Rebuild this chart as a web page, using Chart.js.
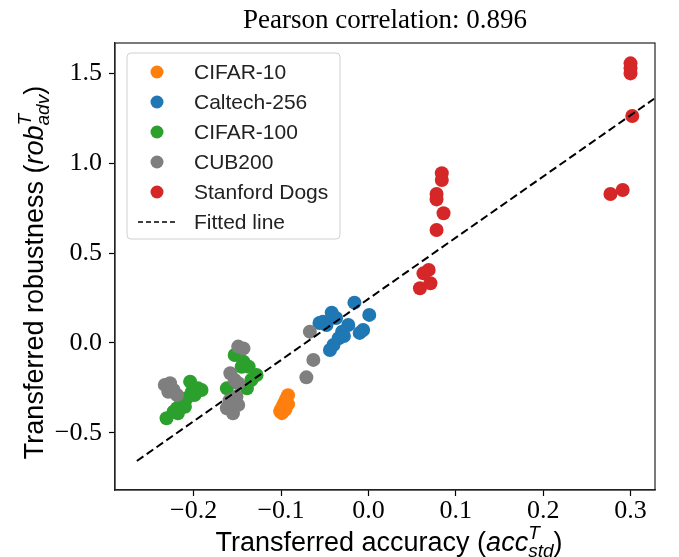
<!DOCTYPE html>
<html>
<head>
<meta charset="utf-8">
<title>Pearson correlation: 0.896</title>
<script src="https://cdn.jsdelivr.net/npm/chart.js@4.4.1/dist/chart.umd.min.js"></script>
<style>
  html, body { margin: 0; padding: 0; background: #fff; }
  #wrap { width: 679px; height: 557px; }
</style>
</head>
<body>
<div id="wrap"><canvas id="chart" width="679" height="557"></canvas></div>
<script>
  // Values (transferred accuracy vs robustness)
  var cifar10X = [-0.092, -0.094, -0.096, -0.098, -0.100, -0.101, -0.099, -0.097, -0.092, -0.095];
  var cifar10Y = [-0.29, -0.31, -0.33, -0.35, -0.37, -0.38, -0.39, -0.36, -0.34, -0.37];

  var caltechX = [-0.016, 0.001, -0.006, -0.042, -0.052, -0.048, -0.023, -0.030, -0.034, -0.040, -0.044, -0.056, -0.037, -0.010, -0.028];
  var caltechY = [0.224, 0.156, 0.072, 0.168, 0.118, 0.100, 0.100, 0.063, 0.026, -0.011, -0.039, 0.111, 0.139, 0.056, 0.039];

  var cifar100X = [-0.204, -0.195, -0.202, -0.208, -0.214, -0.219, -0.223, -0.231, -0.218, -0.210, -0.199, -0.191,
                   -0.153, -0.143, -0.137, -0.128, -0.134, -0.139, -0.162, -0.145];
  var cifar100Y = [-0.215, -0.252, -0.271, -0.307, -0.335, -0.363, -0.382, -0.418, -0.391, -0.354, -0.289, -0.261,
                   -0.067, -0.104, -0.132, -0.178, -0.206, -0.252, -0.252, -0.132];

  var cubX = [-0.233, -0.227, -0.223, -0.229, -0.219,
              -0.149, -0.143, -0.158, -0.153, -0.149, -0.162, -0.155, -0.149, -0.151, -0.159,
              -0.067, -0.063, -0.071];
  var cubY = [-0.233, -0.224, -0.261, -0.271, -0.289,
              -0.020, -0.030, -0.168, -0.206, -0.224, -0.363, -0.391, -0.344, -0.298, -0.320,
              0.063, -0.094, -0.191];

  var dogsX = [0.300, 0.300, 0.300, 0.302, 0.277, 0.291, 0.084, 0.084, 0.078, 0.078, 0.086, 0.078, 0.069, 0.063, 0.071, 0.059];
  var dogsY = [1.554, 1.526, 1.498, 1.261, 0.828, 0.850, 0.943, 0.906, 0.828, 0.798, 0.721, 0.628, 0.406, 0.387, 0.332, 0.304];

  var fitX = [-0.265, 0.327];
  var fitY = [-0.656, 1.357];

  var xTicks = [-0.2, -0.1, 0.0, 0.1, 0.2, 0.3];
  var yTicks = [-0.5, 0.0, 0.5, 1.0, 1.5];

  var seriesNames = ['CIFAR-10', 'Caltech-256', 'CIFAR-100', 'CUB200', 'Stanford Dogs'];
  var seriesColors = ['#ff7f0e', '#1f77b4', '#2ca02c', '#7f7f7f', '#d62728'];
  var titleText = 'Pearson correlation: 0.896';

  var SERIF = '"Liberation Serif", "Times New Roman", serif';
  var SANS = '"Liberation Sans", Arial, sans-serif';

  function pts(xs, ys) {
    return xs.map(function (x, i) { return { x: x, y: ys[i] }; });
  }

  function fmt(v) {
    var s = Math.abs(v).toFixed(1);
    return (v < 0 ? '\u2212' : '') + s;
  }

  // draws a row of text pieces (normal / italic / super / sub) centred on x
  function drawRich(ctx, parts, cx, y) {
    var total = 0;
    parts.forEach(function (p) {
      ctx.font = p.font;
      p.w = ctx.measureText(p.text).width;
      if (!p.stack) total += p.w;
    });
    var x = cx - total / 2;
    ctx.textAlign = 'left';
    ctx.textBaseline = 'alphabetic';
    parts.forEach(function (p) {
      ctx.font = p.font;
      ctx.fillText(p.text, x, y + (p.dy || 0));
      if (!p.stack) x += p.w;
    });
  }

  var labelSize = 27;
  var scriptSize = 19;
  function mathLabel(word, sup, sub, lead) {
    return [
      { text: lead, font: labelSize + 'px ' + SANS },
      { text: word, font: 'italic ' + labelSize + 'px ' + SANS },
      { text: sup, font: 'italic ' + scriptSize + 'px ' + SANS, dy: -12, stack: true },
      { text: sub, font: 'italic ' + scriptSize + 'px ' + SANS, dy: 6 },
      { text: ')', font: labelSize + 'px ' + SANS }
    ];
  }

  var decorations = {
    id: 'decorations',
    afterDraw: function (chart) {
      var ctx = chart.ctx;
      var a = chart.chartArea;
      ctx.save();

      // frame
      ctx.strokeStyle = '#222';
      ctx.lineWidth = 1.2;
      ctx.strokeRect(a.left, a.top, a.right - a.left, a.bottom - a.top);

      ctx.fillStyle = '#000';
      // title
      ctx.font = '27px ' + SERIF;
      ctx.textAlign = 'center';
      ctx.textBaseline = 'alphabetic';
      ctx.fillText(titleText, (a.left + a.right) / 2, 28);

      // x axis title
      drawRich(ctx, mathLabel('acc', 'T', 'std', 'Transferred accuracy ('), (a.left + a.right) / 2 + 4, 551);

      // y axis title
      ctx.save();
      ctx.translate(43, (a.top + a.bottom) / 2 + 6);
      ctx.rotate(-Math.PI / 2);
      drawRich(ctx, mathLabel('rob', 'T', 'adv', 'Transferred robustness ('), 0, 0);
      ctx.restore();

      // legend
      var lx = 127, ly = 53, rowH = 30, lw = 213, lh = 186;
      ctx.fillStyle = 'rgba(255,255,255,0.8)';
      ctx.strokeStyle = '#d0d0d0';
      ctx.lineWidth = 1;
      ctx.beginPath();
      ctx.roundRect(lx, ly, lw, lh, 4);
      ctx.fill();
      ctx.stroke();

      ctx.font = '21px ' + SANS;
      ctx.textAlign = 'left';
      ctx.textBaseline = 'middle';
      seriesNames.forEach(function (name, i) {
        var ry = ly + 19 + i * rowH;
        ctx.fillStyle = seriesColors[i];
        ctx.beginPath();
        ctx.arc(157, ry, 6.5, 0, Math.PI * 2);
        ctx.fill();
        ctx.fillStyle = '#222';
        ctx.fillText(name, 194, ry + 1);
      });
      var fy = ly + 19 + 5 * rowH;
      ctx.strokeStyle = '#000';
      ctx.lineWidth = 1.6;
      ctx.setLineDash([5, 3]);
      ctx.beginPath();
      ctx.moveTo(138, fy);
      ctx.lineTo(178, fy);
      ctx.stroke();
      ctx.setLineDash([]);
      ctx.fillStyle = '#222';
      ctx.fillText('Fitted line', 194, fy + 1);

      ctx.restore();
    }
  };

  function scatterSet(i, xs, ys) {
    return {
      type: 'scatter',
      label: seriesNames[i],
      data: pts(xs, ys),
      backgroundColor: seriesColors[i],
      borderColor: seriesColors[i],
      borderWidth: 0,
      pointRadius: 7,
      pointHoverRadius: 7,
      order: 10 - i
    };
  }

  function axis(extra) {
    return Object.assign({
      type: 'linear',
      grid: { drawOnChartArea: false, drawTicks: true, tickLength: 6, color: '#000', tickWidth: 1.2 },
      border: { display: true, color: '#222', width: 1.2 }
    }, extra);
  }

  new Chart(document.getElementById('chart').getContext('2d'), {
    data: {
      datasets: [
        scatterSet(0, cifar10X, cifar10Y),
        scatterSet(1, caltechX, caltechY),
        scatterSet(2, cifar100X, cifar100Y),
        scatterSet(3, cubX, cubY),
        scatterSet(4, dogsX, dogsY),
        {
          type: 'line',
          label: 'Fitted line',
          data: pts(fitX, fitY),
          borderColor: '#000',
          borderWidth: 2,
          borderDash: [8, 4],
          pointRadius: 0,
          fill: false,
          order: 0
        }
      ]
    },
    options: {
      responsive: false,
      animation: false,
      layout: { padding: { top: 43, right: 24, left: 0, bottom: 0 } },
      plugins: { legend: { display: false }, tooltip: { enabled: false }, title: { display: false } },
      scales: {
        x: axis({
          position: 'bottom',
          min: -0.29,
          max: 0.328,
          ticks: { color: '#000', font: { family: SERIF, size: 26 }, padding: 0, callback: fmt },
          afterBuildTicks: function (s) { s.ticks = xTicks.map(function (v) { return { value: v }; }); },
          afterFit: function (s) { s.height = 67; }
        }),
        y: axis({
          position: 'left',
          min: -0.817,
          max: 1.667,
          ticks: { color: '#000', font: { family: SERIF, size: 26 }, padding: 7, callback: fmt },
          afterBuildTicks: function (s) { s.ticks = yTicks.map(function (v) { return { value: v }; }); },
          afterFit: function (s) { s.width = 115; }
        })
      }
    },
    plugins: [decorations]
  });
</script>
</body>
</html>
